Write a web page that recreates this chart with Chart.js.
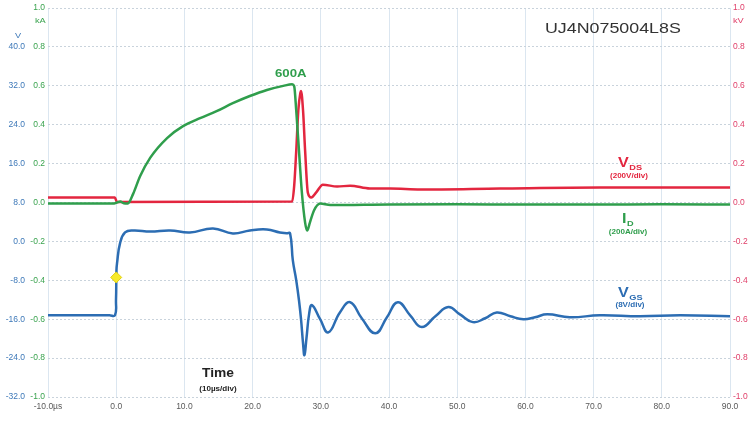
<!DOCTYPE html>
<html>
<head>
<meta charset="utf-8">
<script src="https://cdn.jsdelivr.net/npm/chart.js@4.4.1/dist/chart.umd.min.js"></script>
<style>
  html, body { margin: 0; padding: 0; background: #fff; }
  #scope { display: block; }
</style>
</head>
<body>
<canvas id="scope" width="755" height="426"></canvas>
<script>
// time axis in µs
const timeMin = -10;
const timeMax = 90;

// I_D trace (kA)
const idTime = [-10, -0.3, 0.1, 0.6, 1.1, 1.7, 2.5, 3.5, 5.0, 7.5, 9.8, 12.3, 14.8, 17.1, 19.6, 22.1, 24.5, 25.8, 26.1,
  26.4, 26.8, 27.2, 27.7, 28.0, 28.4, 29.0, 29.9, 31.4, 40, 50, 60, 70, 80, 90];
const idKA = [-0.005, -0.005, 0.0, 0.006, -0.004, -0.005, 0.046, 0.135, 0.231, 0.333, 0.393, 0.434, 0.471, 0.511, 0.548, 0.579, 0.6, 0.608, 0.598,
  0.472, 0.267, 0.062, -0.103, -0.144, -0.103, -0.041, -0.005, -0.013, -0.01, -0.009, -0.01, -0.01, -0.009, -0.01];

// V_DS trace (kV)
const vdsTime = [-10, -0.2, 0.1, 25.8, 26.1, 26.4, 26.7, 27.0, 27.1, 27.4, 27.7, 28.1, 28.6, 29.3, 30.3, 32.4, 34.3, 37.2, 40.2, 44.6, 56.3, 70.9, 90];
const vdsKV = [0.026, 0.026, 0.003, 0.005, 0.087, 0.267, 0.472, 0.564, 0.574, 0.472, 0.267, 0.051, 0.026, 0.051, 0.092, 0.082, 0.087, 0.072, 0.072, 0.067, 0.072, 0.077, 0.077];

// V_GS trace (V)
const vgsTime = [-10, -5, -1, -0.18, -0.03, 0.04, 0.12, 0.56, 1.3, 2.5, 5.0, 7.9, 10.8, 14.2, 17.1, 19.6, 22.1, 24.0, 25.0, 25.5,
  25.9, 26.4, 26.8, 27.1, 27.4, 27.6, 27.9, 28.3, 28.7, 29.9, 31.1, 32.8, 34.3, 36.0, 38.0, 39.7, 41.3, 43.1, 44.8,
  46.8, 48.7, 50.4, 52.3, 54.1, 55.8, 57.8, 59.7, 61.4, 63.2, 66.5, 70.9, 76.8, 82.7, 90];
const vgsV = [-15.2, -15.2, -15.2, -15.2, -12.1, -5.9, -4.5, -0.4, 1.85, 2.26, 2.05, 2.26, 1.85, 2.67, 1.64, 2.26, 2.46, 1.85, 1.7, 1.64,
  -3.9, -8.0, -12.1, -16.0, -21.0, -23.4, -19.9, -14.8, -13.1, -16.0, -18.7, -14.6, -12.5, -15.8, -18.9, -15.6, -12.5, -15.2, -17.6,
  -15.4, -13.5, -15.0, -16.6, -15.8, -14.6, -15.4, -16.0, -15.6, -15.0, -15.6, -15.2, -15.4, -15.2, -15.4];

// trigger marker on V_GS
const trigTime = [0];
const trigV = [-7.4];

// scale ranges
const kRange = [-1, 1, 0.2];
const vgsRange = [-32, 48, 8];

const RED = '#e3263f';
const GREEN = '#2f9e4c';
const BLUE = '#2c6db3';

function pts(xs, ys) {
    return xs.map((x, i) => ({ x: x, y: ys[i] }));
}

function fmt1(v) {
    return Math.abs(v) < 1e-9 ? '0.0' : v.toFixed(1);
}

// draw text a little wider, like the scope screenshot
function stretchText(ctx, text, x, y, font, color, align) {
    ctx.save();
    ctx.font = font;
    ctx.fillStyle = color;
    ctx.textBaseline = 'alphabetic';
    const w = ctx.measureText(text).width * 1.15;
    let x0 = x;
    if (align === 'center') x0 = x - w / 2;
    ctx.translate(x0, y);
    ctx.scale(1.15, 1);
    ctx.textAlign = 'left';
    ctx.fillText(text, 0, 0);
    ctx.restore();
    return w;
}

function subLabel(ctx, main, sub, x, y, color) {
    const w = stretchText(ctx, main, x, y, 'bold 14px "Liberation Sans"', color);
    stretchText(ctx, sub, x + w + 0.5, y + 3, 'bold 8px "Liberation Sans"', color);
}

const notes = {
    id: 'notes',
    afterDatasetsDraw(chart) {
        const ctx = chart.ctx;
        const xs = chart.scales.x;
        const yG = chart.scales.yG;

        stretchText(ctx, 'UJ4N075004L8S', 545, 33, '15.5px "Liberation Sans"', '#333');

        // units
        stretchText(ctx, 'V', 15, 38, '8px "Liberation Sans"', '#3d78b8');
        stretchText(ctx, 'kA', 35, 23, '8px "Liberation Sans"', '#3aa34f');
        stretchText(ctx, 'kV', 733, 23, '8px "Liberation Sans"', '#e0406a');

        // peak current
        stretchText(ctx, '600A', xs.getPixelForValue(25.6), yG.getPixelForValue(0.644),
            'bold 11.5px "Liberation Sans"', GREEN, 'center');

        subLabel(ctx, 'V', 'DS', 618, 167, RED);
        stretchText(ctx, '(200V/div)', 629, 178, 'bold 7px "Liberation Sans"', RED, 'center');

        subLabel(ctx, 'I', 'D', 622, 223, GREEN);
        stretchText(ctx, '(200A/div)', 628, 234, 'bold 7px "Liberation Sans"', GREEN, 'center');

        subLabel(ctx, 'V', 'GS', 618, 297, BLUE);
        stretchText(ctx, '(8V/div)', 630, 307, 'bold 7px "Liberation Sans"', BLUE, 'center');

        stretchText(ctx, 'Time', 218, 377, 'bold 12px "Liberation Sans"', '#222', 'center');
        stretchText(ctx, '(10\u00b5s/div)', 218, 391, 'bold 7px "Liberation Sans"', '#222', 'center');
    }
};

const tickFont = { family: '"Liberation Sans"', size: 8.5 };

new Chart(document.getElementById('scope'), {
    type: 'line',
    data: {
        datasets: [
            {
                label: 'trigger',
                data: pts(trigTime, trigV),
                yAxisID: 'yB',
                showLine: false,
                pointStyle: 'rectRot',
                pointRadius: 5.5,
                backgroundColor: '#f7ea2b',
                borderColor: '#e0cf10',
                borderWidth: 1,
                order: 0
            },
            {
                label: 'VDS',
                data: pts(vdsTime, vdsKV),
                yAxisID: 'yR',
                borderColor: RED,
                borderWidth: 2.5,
                pointRadius: 0,
                cubicInterpolationMode: 'monotone',
                order: 2
            },
            {
                label: 'ID',
                data: pts(idTime, idKA),
                yAxisID: 'yG',
                borderColor: GREEN,
                borderWidth: 2.5,
                pointRadius: 0,
                cubicInterpolationMode: 'monotone',
                order: 1
            },
            {
                label: 'VGS',
                data: pts(vgsTime, vgsV),
                yAxisID: 'yB',
                borderColor: BLUE,
                borderWidth: 2.5,
                pointRadius: 0,
                tension: 0.45,
                order: 3
            }
        ]
    },
    options: {
        responsive: false,
        animation: false,
        devicePixelRatio: 1,
        layout: { padding: { top: 7, left: 0, right: 0, bottom: 0 } },
        plugins: {
            legend: { display: false },
            tooltip: { enabled: false }
        },
        scales: {
            x: {
                type: 'linear',
                min: timeMin,
                max: timeMax,
                border: { display: false },
                grid: { color: '#dbe6f0', lineWidth: 1, drawTicks: false },
                ticks: {
                    stepSize: 10,
                    color: '#5a5a5a',
                    font: tickFont,
                    padding: 5,
                    maxRotation: 0,
                    callback: v => v === timeMin ? '-10.0\u00b5s' : fmt1(v)
                },
                afterFit: s => { s.height = 29; }
            },
            yG: {
                position: 'left',
                weight: 0,
                min: kRange[0],
                max: kRange[1],
                border: { display: false, dash: [2, 2] },
                grid: { color: '#c9d3dc', lineWidth: 1, drawTicks: false },
                ticks: {
                    stepSize: kRange[2],
                    color: '#3aa34f',
                    font: tickFont,
                    padding: 3,
                    callback: v => fmt1(v)
                },
                afterFit: s => { s.width = 20; }
            },
            yB: {
                position: 'left',
                weight: 1,
                min: vgsRange[0],
                max: vgsRange[1],
                border: { display: false },
                grid: { display: false, drawTicks: false },
                ticks: {
                    stepSize: vgsRange[2],
                    color: '#3d78b8',
                    font: tickFont,
                    padding: 3,
                    callback: v => v === vgsRange[1] ? '' : fmt1(v)
                },
                afterFit: s => { s.width = 28; }
            },
            yR: {
                position: 'right',
                min: kRange[0],
                max: kRange[1],
                border: { display: false },
                grid: { display: false, drawTicks: false },
                ticks: {
                    stepSize: kRange[2],
                    color: '#e0406a',
                    font: tickFont,
                    padding: 3,
                    callback: v => fmt1(v)
                },
                afterFit: s => { s.width = 25; }
            }
        }
    },
    plugins: [notes]
});
</script>
</body>
</html>
